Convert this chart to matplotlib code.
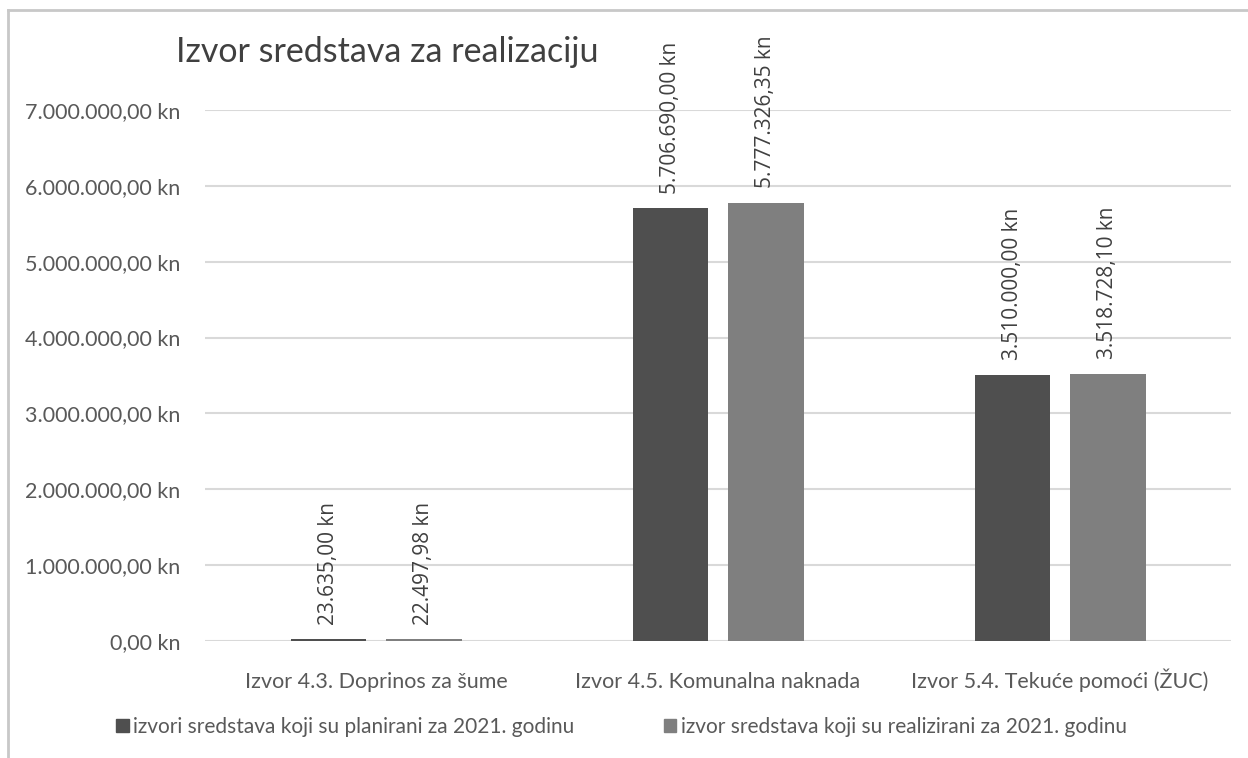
import matplotlib
matplotlib.use("Agg")
import matplotlib.pyplot as plt
import numpy as np
from matplotlib.patches import Patch
from matplotlib.ticker import FuncFormatter

categories = ["Izvor 4.3. Doprinos za šume",
              "Izvor 4.5. Komunalna naknada",
              "Izvor 5.4. Tekuće pomoći (ŽUC)"]
planned = [23635.00, 5706690.00, 3510000.00]
realized = [22497.98, 5777326.35, 3518728.10]
series_names = ["izvori sredstava koji su planirani za 2021. godinu",
                "izvor sredstava koji su realizirani za 2021. godinu"]
yticks = [0, 1e6, 2e6, 3e6, 4e6, 5e6, 6e6, 7e6]


def kn(v, pos=None):
    s = f"{v:,.2f}"
    s = s.replace(",", "X").replace(".", ",").replace("X", ".")
    return s + " kn"


FONT = ["Lato", "DejaVu Sans"]
dark = "#4f4f4f"
light = "#7f7f7f"
txt = "#595959"

fig = plt.figure(figsize=(12.48, 7.58), dpi=100)
ax = fig.add_axes([0.1643, 0.1544, 0.8221, 0.7005])

x = np.arange(len(categories))
w = 0.22
b1 = ax.bar(x - 0.14, planned, w, color=dark, zorder=3)
b2 = ax.bar(x + 0.14, realized, w, color=light, zorder=3)

for bars, vals in [(b1, planned), (b2, realized)]:
    for b, v in zip(bars, vals):
        ax.annotate(kn(v), (b.get_x() + b.get_width() / 2, v),
                    xytext=(0, 10.5), textcoords="offset points",
                    rotation=90, ha="center", va="bottom",
                    fontsize=15, color="#404040", family=["Open Sans", "DejaVu Sans"],
                    annotation_clip=False)

ax.set_xlim(-0.5, 2.5)
ax.set_ylim(0, 7e6)
ax.set_yticks(yticks)
ax.yaxis.set_major_formatter(FuncFormatter(kn))
ax.set_xticks(x)
ax.set_xticklabels(categories, va="baseline")
ax.grid(axis="y", color="#d9d9d9", linewidth=1.5, zorder=0)
for s in ax.spines.values():
    s.set_visible(False)
ax.tick_params(length=0, colors=txt)
ax.tick_params(axis="y", pad=18, labelsize=15.5)
ax.tick_params(axis="x", pad=34, labelsize=15.5)
for lab in ax.get_xticklabels() + ax.get_yticklabels():
    lab.set_family(FONT)

fig.text(0.141, 0.931, "Izvor sredstava za realizaciju", fontsize=24.5,
         color="#404040", family=FONT, va="center")

handles = [Patch(color=dark), Patch(color=light)]
leg = fig.legend(handles, series_names, loc="center", bbox_to_anchor=(0.498, 0.041),
                 ncol=2, frameon=False, handlelength=0.6, handleheight=0.6,
                 handletextpad=0.2, columnspacing=4.3,
                 prop={"family": FONT, "size": 15})
for t in leg.get_texts():
    t.set_color(txt)

# outer frame (top and left edges visible)
fig.add_artist(plt.Line2D([0.0064, 0.0064], [0.0, 0.9868], color="#c8c8c8",
                          linewidth=2, transform=fig.transFigure))
fig.add_artist(plt.Line2D([0.0064, 1.0], [0.9868, 0.9868], color="#c8c8c8",
                          linewidth=2, transform=fig.transFigure))

fig.savefig("out.png", dpi=100)
